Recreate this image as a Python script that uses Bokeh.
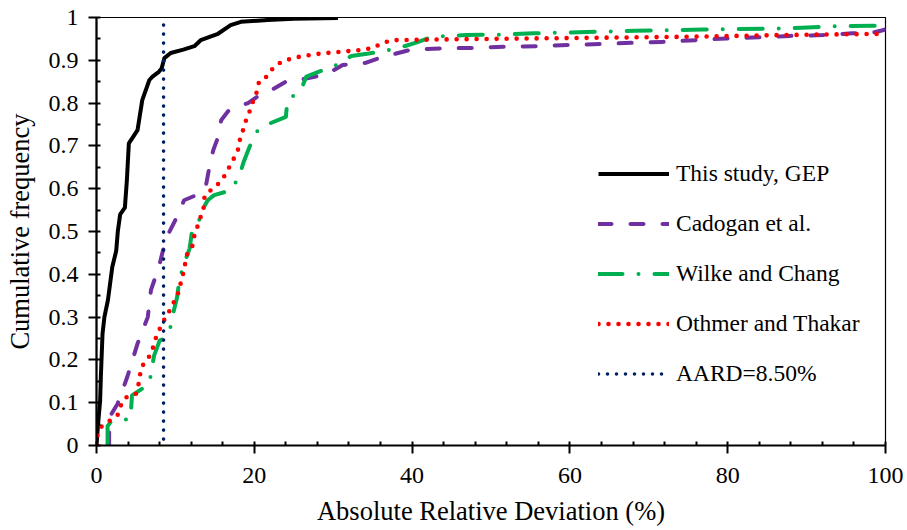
from bokeh.plotting import figure
from bokeh.models import Legend, LegendItem, FixedTicker, CustomJSTickFormatter, Range1d
from bokeh.embed import file_html
from bokeh.resources import INLINE

# ---- data ----
gep_x = [0, 0.2, 0.46, 0.55, 0.76, 1.0, 1.45, 2.0, 2.5, 2.7, 3.0, 3.6, 3.85, 4.1, 4.6, 5.2, 5.8, 6.7, 7.1, 7.9,
         8.25, 8.6, 9.4, 11.0, 12.4, 13.2, 15.4, 17.0, 18.3, 21.7, 25.0, 30.6]
gep_y = [0, 0.05, 0.105, 0.16, 0.26, 0.3, 0.34, 0.417, 0.455, 0.5, 0.54, 0.556, 0.62, 0.706, 0.72, 0.737, 0.807, 0.854, 0.862, 0.873,
         0.881, 0.905, 0.917, 0.925, 0.933, 0.947, 0.962, 0.982, 0.99, 0.994, 0.997, 0.999]

cad_x = [1.6, 1.6, 1.9, 2.66, 3.9, 5.2, 6.5, 6.9, 7.9, 8.8, 10.3, 11.1, 13.3, 13.9, 14.3, 14.8, 15.4, 15.8, 16.8, 19.2,
         20.4, 22.3, 24.0, 25.9, 27.8, 29.5, 31.2, 34.1, 36.1, 39.9, 44.0, 48.1, 52.0, 55.9, 59.9, 63.9, 68.1, 71.7, 75.9, 79.8,
         84.0, 87.9, 92.1, 95.8, 98.5, 99.4, 100]
cad_y = [0, 0.03, 0.074, 0.097, 0.16, 0.238, 0.30, 0.363, 0.417, 0.483, 0.538, 0.573, 0.59, 0.61, 0.65, 0.69, 0.72, 0.76, 0.784, 0.80,
         0.815, 0.832, 0.85, 0.855, 0.862, 0.871, 0.889, 0.894, 0.907, 0.925, 0.928, 0.929, 0.932, 0.933, 0.936, 0.938, 0.941, 0.943, 0.947, 0.951,
         0.954, 0.957, 0.959, 0.963, 0.965, 0.969, 0.972]

wc_x = [1.4, 1.4, 1.8, 2.8, 4.3, 4.5, 6.7, 6.9, 7.3, 8.0, 8.6, 9.3, 9.65, 10.2, 10.5, 11.0, 11.8, 12.1, 13.0, 13.4, 14.1,
        14.9, 17.0, 18.1, 18.6, 19.4, 20.3, 21.9, 24.0, 24.2, 25.9, 26.6, 30.4, 32.3, 34.5, 38.2, 40.6, 42.6, 46.8, 51.2, 55.4,
        59.9, 64.1, 68.2, 72.4, 76.8, 81.0, 85.4, 89.4, 94.0, 100]
wc_y = [0, 0.045, 0.055, 0.058, 0.062, 0.117, 0.144, 0.168, 0.21, 0.245, 0.25, 0.27, 0.304, 0.345, 0.386, 0.42, 0.46, 0.5, 0.526, 0.55, 0.573,
        0.585, 0.596, 0.628, 0.66, 0.698, 0.733, 0.752, 0.768, 0.807, 0.83, 0.862, 0.889, 0.91, 0.916, 0.928, 0.942, 0.955, 0.959, 0.96, 0.963,
        0.965, 0.967, 0.969, 0.97, 0.972, 0.973, 0.974, 0.976, 0.98, 0.981]

ot_x = [0.1, 0.1, 0.55, 1.6, 2.7, 3.1, 3.7, 5.0, 5.3, 5.5, 5.8, 6.55, 7.1, 7.5, 7.95, 8.6, 9.2, 9.8, 10.35, 11.0,
        11.5, 12.2, 12.4, 13.2, 13.6, 13.7, 14.6, 15.6, 16.3, 16.9, 17.5, 18.0, 18.2, 18.65, 19.0, 19.5, 19.9, 20.4, 20.6, 21.6,
        22.5, 23.5, 24.7, 25.9, 28.5, 31.0, 33.5, 34.8, 35.8, 36.5, 37.5, 45.0, 60.0, 75.0, 87.0, 100]
ot_y = [0, 0.023, 0.043, 0.057, 0.072, 0.094, 0.112, 0.121, 0.14, 0.164, 0.186, 0.203, 0.225, 0.25, 0.27, 0.294, 0.313, 0.335, 0.356, 0.403,
        0.448, 0.468, 0.49, 0.534, 0.557, 0.585, 0.598, 0.614, 0.632, 0.653, 0.674, 0.694, 0.717, 0.741, 0.763, 0.785, 0.807, 0.83, 0.851, 0.862,
        0.885, 0.897, 0.904, 0.909, 0.916, 0.92, 0.924, 0.928, 0.936, 0.942, 0.947, 0.949, 0.952, 0.955, 0.959, 0.962]

aard_x = [8.5, 8.5]
aard_y = [0.015, 1.0]

labels = ["This study, GEP", "Cadogan et al.", "Wilke and Chang", "Othmer and Thakar", "AARD=8.50%"]

x_major = [0, 20, 40, 60, 80, 100]
x_minor = [4, 8, 12, 16, 24, 28, 32, 36, 44, 48, 52, 56, 64, 68, 72, 76, 84, 88, 92, 96]
y_major = [0, 0.1, 0.2, 0.3, 0.4, 0.5, 0.6, 0.7, 0.8, 0.9, 1.0]
y_minor = [0.05, 0.15, 0.25, 0.35, 0.45, 0.55, 0.65, 0.75, 0.85, 0.95]

FONT = "Liberation Serif"

p = figure(width=907, height=530, output_backend="svg", toolbar_location=None,
           x_range=Range1d(0, 100), y_range=Range1d(0, 1),
           min_border_left=96, min_border_right=22, min_border_top=17, min_border_bottom=85)
p.background_fill_color = "white"
p.border_fill_color = "white"
p.xgrid.visible = False
p.ygrid.visible = False
p.outline_line_color = "black"
p.outline_line_width = 1.2

p.xaxis.ticker = FixedTicker(ticks=x_major, minor_ticks=x_minor)
p.yaxis.ticker = FixedTicker(ticks=y_major, minor_ticks=y_minor)
p.yaxis.formatter = CustomJSTickFormatter(code="return (Math.round(tick*10)/10).toString();")

for ax in (p.xaxis[0], p.yaxis[0]):
    ax.axis_line_width = 2.2
    ax.axis_line_color = "black"
    ax.major_tick_line_width = 2
    ax.minor_tick_line_width = 2
    ax.major_tick_line_color = "black"
    ax.minor_tick_line_color = "black"
    ax.major_tick_in = 4
    ax.major_tick_out = 8
    ax.minor_tick_in = 4
    ax.minor_tick_out = 0
    ax.major_label_text_font = FONT
    ax.major_label_text_font_size = "24px"
    ax.major_label_text_color = "black"
    ax.axis_label_text_font = FONT
    ax.axis_label_text_font_size = "26.5px"
    ax.axis_label_text_font_style = "normal"
    ax.axis_label_text_color = "black"

p.xaxis.axis_label = "Absolute Relative Deviation (%)"
p.yaxis.axis_label = "Cumulative frequency"
p.xaxis.major_label_standoff = 14
p.yaxis.major_label_standoff = 10
p.xaxis.axis_label_standoff = 10
p.yaxis.axis_label_standoff = 11

r_gep = p.line(gep_x, gep_y, line_color="black", line_width=4, line_join="round")
r_cad = p.line(cad_x, cad_y, line_color="#7030A0", line_width=4, line_dash="13 19", line_cap="round", line_join="round")
r_wc = p.line(wc_x, wc_y, line_color="#00B050", line_width=4, line_dash="24 16 0 16", line_cap="round", line_join="round")
r_ot = p.line(ot_x, ot_y, line_color="#FF0000", line_width=4.6, line_dash="0 10", line_cap="round", line_join="round")
r_aard = p.line(aard_x, aard_y, line_color="#002060", line_width=3.6, line_dash="0 9", line_cap="round")

renderers = [r_gep, r_cad, r_wc, r_ot, r_aard]
legend = Legend(items=[LegendItem(label=l, renderers=[r]) for l, r in zip(labels, renderers)],
                location=(502, 58), border_line_color=None, background_fill_alpha=0,
                padding=0, margin=0, spacing=23, glyph_width=71, glyph_height=27, label_height=27,
                label_standoff=7, label_text_font=FONT, label_text_font_size="23.5px", label_text_color="black")
p.add_layout(legend)

open("out.html", "w").write(file_html(p, INLINE))
